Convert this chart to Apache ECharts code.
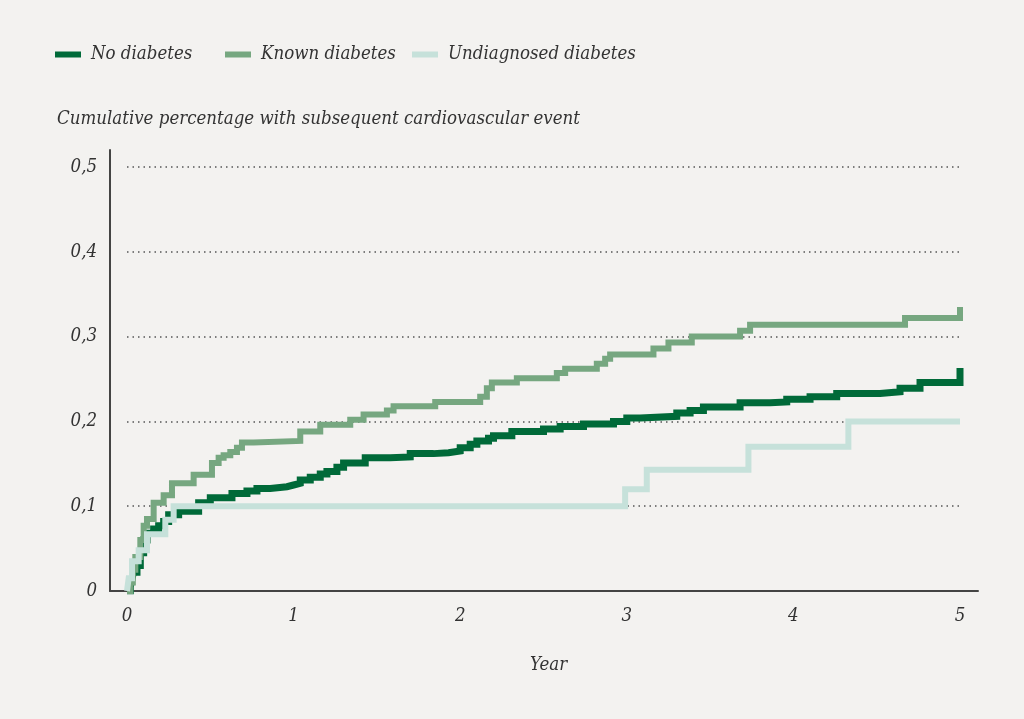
<!DOCTYPE html>
<html>
<head>
<meta charset="utf-8">
<script src="https://cdn.jsdelivr.net/npm/echarts@6/dist/echarts.min.js"></script>
<style>
  html, body { margin: 0; padding: 0; background: #f3f2f0; }
  #chart { width: 1024px; height: 719px; }
</style>
</head>
<body>
<div id="chart"></div>
<script>
// step points: value jumps to y at year x
const noDiabetesYears = [0, 0.02, 0.03, 0.04, 0.06, 0.08, 0.1, 0.12, 0.16, 0.19, 0.22, 0.25, 0.31, 0.43, 0.5, 0.63, 0.72, 0.78, 0.86, 0.96, 1.0, 1.04, 1.1, 1.16, 1.2, 1.26, 1.3, 1.43, 1.58, 1.7, 1.84, 1.93, 2.0, 2.06, 2.1, 2.17, 2.2, 2.31, 2.5, 2.6, 2.74, 2.92, 3.0, 3.08, 3.3, 3.38, 3.46, 3.68, 3.86, 3.96, 4.1, 4.26, 4.52, 4.64, 4.76, 5.0]
const noDiabetesValues = [0, 0.005, 0.015, 0.022, 0.03, 0.045, 0.06, 0.068, 0.073, 0.077, 0.082, 0.09, 0.094, 0.104, 0.11, 0.115, 0.118, 0.121, 0.123, 0.125, 0.127, 0.131, 0.134, 0.138, 0.141, 0.146, 0.151, 0.157, 0.158, 0.162, 0.163, 0.165, 0.169, 0.173, 0.177, 0.18, 0.183, 0.188, 0.191, 0.194, 0.197, 0.2, 0.204, 0.206, 0.21, 0.213, 0.217, 0.222, 0.223, 0.226, 0.229, 0.233, 0.235, 0.239, 0.246, 0.263]

const knownYears = [0, 0.02, 0.035, 0.05, 0.08, 0.1, 0.12, 0.16, 0.22, 0.27, 0.4, 0.51, 0.55, 0.58, 0.62, 0.66, 0.69, 0.76, 1.04, 1.16, 1.34, 1.42, 1.56, 1.6, 1.85, 2.12, 2.16, 2.19, 2.34, 2.58, 2.63, 2.82, 2.87, 2.9, 3.16, 3.25, 3.39, 3.68, 3.74, 4.67, 5.0]
const knownValues = [0, 0.01, 0.025, 0.04, 0.06, 0.077, 0.085, 0.104, 0.113, 0.127, 0.137, 0.151, 0.157, 0.16, 0.164, 0.169, 0.175, 0.177, 0.188, 0.196, 0.202, 0.208, 0.213, 0.218, 0.223, 0.229, 0.239, 0.246, 0.251, 0.257, 0.262, 0.268, 0.274, 0.279, 0.286, 0.293, 0.3, 0.307, 0.314, 0.322, 0.335]

const undiagnosedYears = [0, 0.01, 0.03, 0.07, 0.12, 0.23, 0.28, 2.99, 3.12, 3.73, 4.33, 5.0]
const undiagnosedValues = [0, 0.015, 0.035, 0.048, 0.067, 0.084, 0.1, 0.12, 0.143, 0.17, 0.2, 0.2]

const seriesNames = ['No diabetes', 'Known diabetes', 'Undiagnosed diabetes']
const yTicks = [0, 0.1, 0.2, 0.3, 0.4, 0.5]
const xTicks = [0, 1, 2, 3, 4, 5]

const zip = (xs, ys) => xs.map((x, i) => [x, ys[i]])

const font = "'DejaVu Serif Condensed', 'DejaVu Serif', serif"
const textColor = '#333333'
const fontSize = 18.5

const chart = echarts.init(document.getElementById('chart'))

const legendBase = {
  icon: 'rect',
  itemWidth: 26,
  itemHeight: 6,
  padding: 0,
  top: 45,
  textStyle: { fontFamily: font, fontStyle: 'italic', fontSize: fontSize, color: textColor, padding: [0, 0, 0, 5] }
}

const lineBase = { cap: 'butt', join: 'miter' }

const option = {
  backgroundColor: '#f3f2f0',
  animation: false,
  color: ['#006a39', '#76a780', '#c6e1da'],
  title: [
    {
      text: 'Cumulative percentage with subsequent cardiovascular event',
      left: 52, top: 105,
      textStyle: { fontFamily: font, fontStyle: 'italic', fontWeight: 'normal', fontSize: fontSize, color: textColor }
    },
    {
      text: 'Year',
      left: 525, top: 651,
      textStyle: { fontFamily: font, fontStyle: 'italic', fontWeight: 'normal', fontSize: fontSize, color: textColor }
    }
  ],
  legend: [
    { ...legendBase, left: 55, data: [seriesNames[0]] },
    { ...legendBase, left: 225, data: [seriesNames[1]] },
    { ...legendBase, left: 412, data: [seriesNames[2]] }
  ],
  grid: [
    { left: 127, right: 64, top: 167, bottom: 128 },
    { left: 110, right: 46, top: 150, bottom: 128 }
  ],
  xAxis: [
    {
      gridIndex: 0, type: 'value', min: xTicks[0], max: xTicks[xTicks.length - 1], interval: 1,
      axisLine: { show: false }, axisTick: { show: false }, splitLine: { show: false },
      axisLabel: { margin: 16, fontFamily: font, fontStyle: 'italic', fontSize: fontSize, color: textColor }
    },
    {
      gridIndex: 1, type: 'value', min: 0, max: 1,
      axisLine: { show: true, lineStyle: { color: '#444', width: 2 } },
      axisTick: { show: false }, axisLabel: { show: false }, splitLine: { show: false }
    }
  ],
  yAxis: [
    {
      gridIndex: 0, type: 'value', min: yTicks[0], max: yTicks[yTicks.length - 1], interval: 0.1,
      axisLine: { show: false }, axisTick: { show: false },
      axisLabel: {
        margin: 30, fontFamily: font, fontStyle: 'italic', fontSize: fontSize, color: textColor,
        formatter: v => v === 0 ? '0' : v.toFixed(1).replace('.', ',')
      },
      splitLine: { show: true, showMinLine: false, lineStyle: { color: '#555', width: 1.5, type: [1.5, 4] } }
    },
    {
      gridIndex: 1, type: 'value', min: 0, max: 1,
      axisLine: { show: true, lineStyle: { color: '#444', width: 2 } },
      axisTick: { show: false }, axisLabel: { show: false }, splitLine: { show: false }
    }
  ],
  series: [
    {
      name: seriesNames[0], type: 'line', step: 'end', symbol: 'none',
      lineStyle: { ...lineBase, width: 7 },
      data: zip(noDiabetesYears, noDiabetesValues)
    },
    {
      name: seriesNames[1], type: 'line', step: 'end', symbol: 'none',
      lineStyle: { ...lineBase, width: 6 },
      data: zip(knownYears, knownValues)
    },
    {
      name: seriesNames[2], type: 'line', step: 'end', symbol: 'none',
      lineStyle: { ...lineBase, width: 6 },
      data: zip(undiagnosedYears, undiagnosedValues)
    }
  ]
}

chart.setOption(option)
</script>
</body>
</html>
